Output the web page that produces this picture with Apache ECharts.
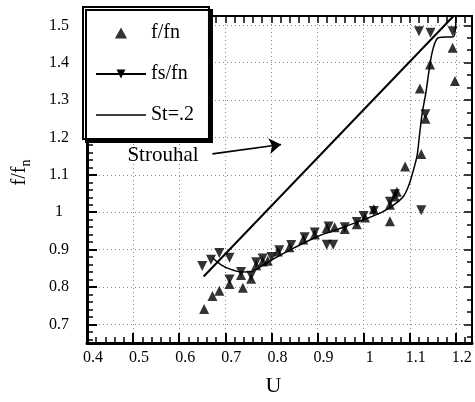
<!DOCTYPE html>
<html><head><meta charset="utf-8">
<script src="https://cdn.jsdelivr.net/npm/echarts@6/dist/echarts.min.js"></script>
<style>html,body{margin:0;padding:0;background:#fff}#c{width:475px;height:402px}</style>
</head><body><div id="c"></div>
<script>
// ---- data ----
const xTicks = [0.4, 0.5, 0.6, 0.7, 0.8, 0.9, 1.0, 1.1, 1.2];
const xTickLabels = ['0.4', '0.5', '0.6', '0.7', '0.8', '0.9', '1', '1.1', '1.2'];
const yTicks = [0.7, 0.8, 0.9, 1.0, 1.1, 1.2, 1.3, 1.4, 1.5];
const yTickLabels = ['0.7', '0.8', '0.9', '1', '1.1', '1.2', '1.3', '1.4', '1.5'];

// f/fn (up triangles)
const fData = [
  [0.654, 0.741], [0.672, 0.776], [0.687, 0.790], [0.709, 0.808], [0.738, 0.798],
  [0.734, 0.832], [0.756, 0.822], [0.767, 0.858], [0.781, 0.868], [0.792, 0.870],
  [0.814, 0.895], [0.839, 0.906], [0.869, 0.927], [0.894, 0.940], [0.920, 0.958],
  [0.937, 0.960], [0.959, 0.955], [0.985, 0.968], [1.003, 0.986], [1.022, 1.008],
  [1.057, 0.976], [1.057, 1.020], [1.068, 1.042], [1.072, 1.055], [1.090, 1.122],
  [1.125, 1.156], [1.122, 1.331], [1.134, 1.250], [1.144, 1.395], [1.193, 1.440],
  [1.198, 1.351]
];
// fs/fn (down triangles)
const fsData = [
  [0.650, 0.856], [0.669, 0.873], [0.687, 0.891], [0.709, 0.878], [0.709, 0.820],
  [0.734, 0.840], [0.756, 0.830], [0.767, 0.866], [0.781, 0.876], [0.800, 0.880],
  [0.817, 0.898], [0.843, 0.912], [0.872, 0.933], [0.894, 0.946], [0.920, 0.913],
  [0.934, 0.913], [0.924, 0.962], [0.959, 0.960], [0.985, 0.974], [1.000, 0.990],
  [1.022, 1.003], [1.057, 1.028], [1.068, 1.048], [1.125, 1.005], [1.134, 1.262],
  [1.120, 1.484], [1.145, 1.480], [1.193, 1.484]
];
// fs/fn fitted curve
const fsFit = [
  [0.672, 0.878], [0.690, 0.860], [0.712, 0.847], [0.735, 0.840], [0.755, 0.841],
  [0.780, 0.857], [0.800, 0.872], [0.850, 0.905], [0.900, 0.935], [0.950, 0.957],
  [1.000, 0.980], [1.040, 1.000], [1.066, 1.020], [1.086, 1.042], [1.098, 1.072],
  [1.108, 1.113], [1.116, 1.152], [1.121, 1.205], [1.127, 1.265], [1.135, 1.320],
  [1.142, 1.380], [1.150, 1.435], [1.162, 1.467], [1.195, 1.470], [1.200, 1.525]
];
// Strouhal line St=.2
const stLine = [[0.653, 0.828], [1.195, 1.525]];
// annotation arrow "Strouhal"
const arrowFrom = [0.672, 1.156];
const arrowTo = [0.821, 1.181];

const X_MIN = 0.4, X_MAX = 1.235, Y_MIN = 0.65, Y_MAX = 1.525;

// ---- ticks ----
function steps(a, b, s) { const out = []; for (let v = a; v <= b + 1e-9; v += s) out.push(+v.toFixed(4)); return out; }
const xAll = steps(0.4, 1.23, 0.02);
const xMinor = xAll.filter(v => !xTicks.some(t => Math.abs(t - v) < 1e-6));
const yAll = steps(0.66, 1.52, 0.02);
const yMinor = yAll.filter(v => !yTicks.some(t => Math.abs(t - v) < 1e-6));
const yRight = steps(0.6667, 1.52, 0.1 / 3);

function labelFor(v, ticks, labels) {
  for (let i = 0; i < ticks.length; i++) if (Math.abs(ticks[i] - v) < 1e-6) return labels[i];
  return '';
}

const F = "'Liberation Serif','DejaVu Serif',serif";
const black = '#000';

function plainAxis(pos, vals, len, w, showLine, lineW) {
  const isY = pos === 'left' || pos === 'right';
  return {
    type: 'value', min: isY ? Y_MIN : X_MIN, max: isY ? Y_MAX : X_MAX,
    position: pos,
    axisLine: { show: showLine, onZero: false, lineStyle: { color: black, width: lineW || 2 } },
    axisTick: { show: true, inside: true, length: len, lineStyle: { color: black, width: w }, customValues: vals },
    axisLabel: { show: false },
    splitLine: { show: false },
    silent: true
  };
}

const gridLine = { show: true, lineStyle: { color: '#8a8a8a', width: 1, type: [1, 3] } };

const option = {
  animation: false,
  backgroundColor: '#fff',
  grid: { left: 87, right: 3, top: 16, bottom: 56 },
  xAxis: [
    {
      type: 'value', min: X_MIN, max: X_MAX, position: 'bottom', splitNumber: 9,
      axisLine: { show: true, onZero: false, lineStyle: { color: black, width: 3 } },
      axisTick: { show: true, inside: true, length: 10, lineStyle: { color: black, width: 2 }, customValues: xTicks },
      axisLabel: { show: true, customValues: xTicks, formatter: v => labelFor(v, xTicks, xTickLabels),
        color: black, fontFamily: F, fontSize: 16, margin: 7, padding: [0, 0, 0, 12] },
      splitLine: gridLine,
      name: 'U', nameLocation: 'middle', nameGap: 32,
      nameTextStyle: { fontFamily: F, fontSize: 22, color: black, padding: [0, 12, 0, 0] }
    },
    plainAxis('bottom', xMinor, 6, 1.5, false),
    plainAxis('top', xAll, 7, 1.5, true, 2)
  ],
  yAxis: [
    {
      type: 'value', min: Y_MIN, max: Y_MAX, position: 'left', splitNumber: 9,
      axisLine: { show: true, onZero: false, lineStyle: { color: black, width: 3 } },
      axisTick: { show: true, inside: true, length: 10, lineStyle: { color: black, width: 2 }, customValues: yTicks },
      axisLabel: { show: true, customValues: yTicks, formatter: v => labelFor(v, yTicks, yTickLabels),
        color: black, fontFamily: F, fontSize: 16, margin: 28, align: 'center' },
      splitLine: gridLine,
      name: 'f/f{n|n}', nameLocation: 'middle', nameRotate: 90, nameGap: 54,
      nameTextStyle: { fontFamily: F, fontSize: 20, color: black, padding: [0, 0, 0, 14],
        rich: { n: { fontFamily: F, fontSize: 14, color: black, padding: [12, 0, 0, 0] } } }
    },
    plainAxis('left', yMinor, 6, 1.5, false),
    plainAxis('right', yTicks, 8, 1.5, true, 2),
    plainAxis('right', yRight, 5, 1.5, false)
  ],
  legend: {
    data: [
      { name: 'f/fn', icon: 'path://M5,0L10,9L0,9Z' },
      { name: 'fs/fn' },
      { name: 'St=.2', icon: 'path://M0,0L50,0L50,1.5L0,1.5Z' }
    ],
    orient: 'vertical', left: 83, top: 7,
    itemWidth: 50, itemHeight: 11, itemGap: 19,
    padding: [15, 15, 13, 12],
    backgroundColor: '#fff', borderColor: black, borderWidth: 2,
    shadowColor: black, shadowOffsetX: 3, shadowOffsetY: 3, shadowBlur: 0,
    textStyle: { fontFamily: F, fontSize: 20, color: black, lineHeight: 22 },
    selectedMode: false, z: 10
  },
  series: [
    {
      name: 'f/fn', type: 'scatter', data: fData, symbol: 'triangle', symbolSize: 10,
      itemStyle: { color: black }, emphasis: { disabled: true }, silent: true
    },
    {
      name: 'fs/fn', type: 'line', data: fsFit, smooth: 0.3, symbol: 'triangle', symbolRotate: 180,
      showSymbol: false, symbolSize: 10, lineStyle: { color: black, width: 1.5 }, itemStyle: { color: black },
      emphasis: { disabled: true }, silent: true
    },
    {
      name: 'fs/fn', type: 'scatter', data: fsData, symbol: 'triangle', symbolRotate: 180, symbolSize: 10,
      itemStyle: { color: black }, emphasis: { disabled: true }, silent: true
    },
    {
      name: 'St=.2', type: 'line', data: stLine, symbol: 'none',
      lineStyle: { color: black, width: 2 }, itemStyle: { color: black },
      emphasis: { disabled: true }, silent: true,
      markLine: {
        silent: true, symbol: ['none', 'arrow'], symbolSize: 12, animation: false,
        lineStyle: { color: black, width: 1.6, type: 'solid' },
        itemStyle: { color: black },
        label: { show: true, position: 'start', formatter: 'Strouhal', distance: 14,
          fontFamily: F, fontSize: 21, color: black },
        data: [[{ coord: arrowFrom }, { coord: arrowTo }]]
      }
    }
  ]
};

const chart = echarts.init(document.getElementById('c'), null, { renderer: 'canvas' });
chart.setOption(option);
</script>
</body></html>
